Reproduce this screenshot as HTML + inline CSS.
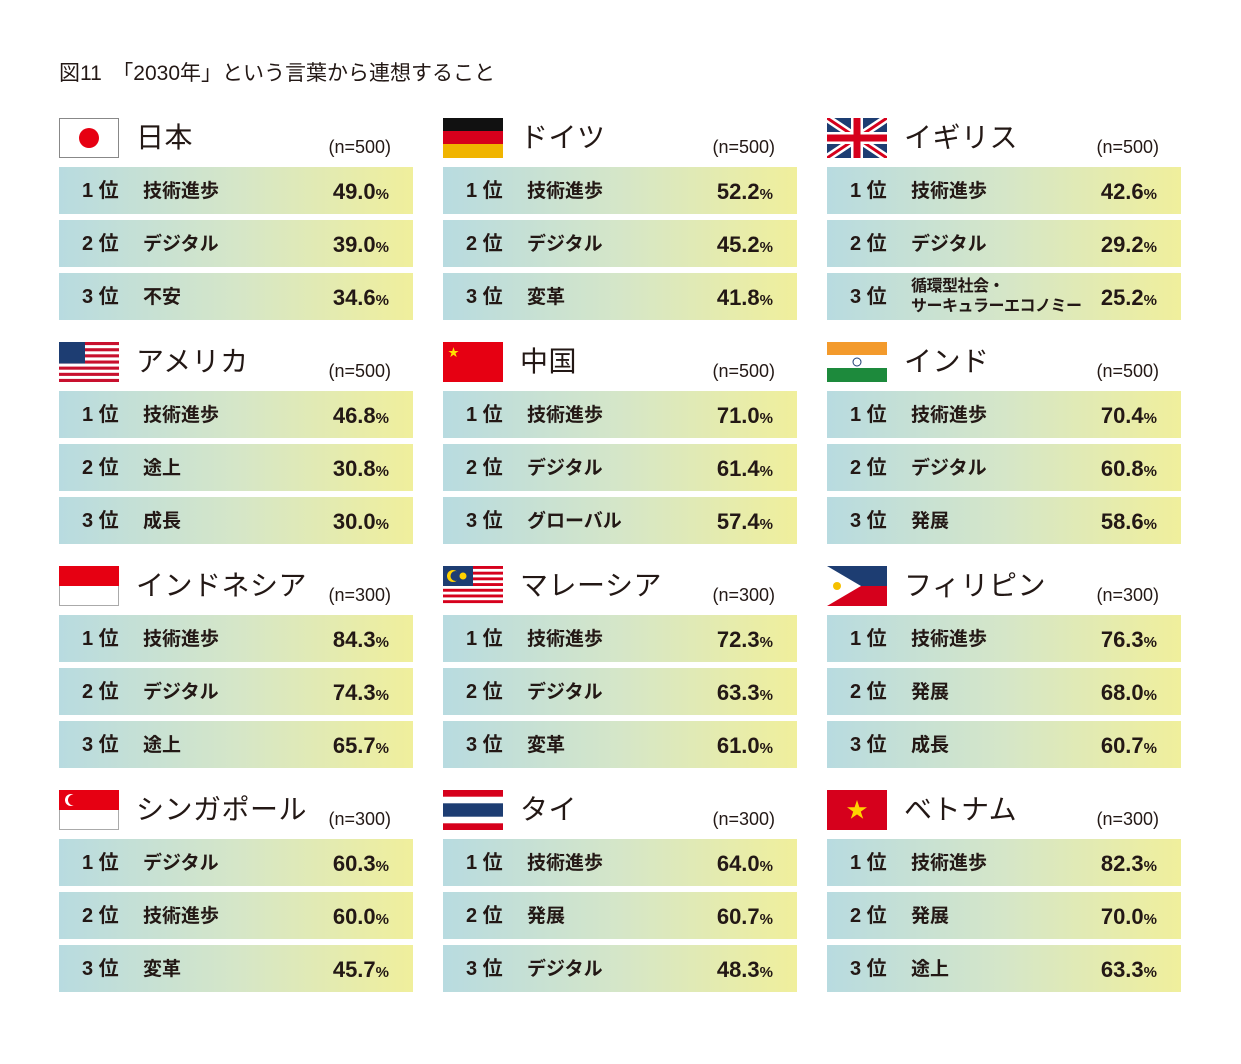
<!DOCTYPE html>
<html><head><meta charset="utf-8"><style>
body{margin:0;background:#fff;width:1241px;height:1064px;position:relative;overflow:hidden;font-family:"Liberation Sans","Noto Sans CJK JP",sans-serif;color:#231815}
.t{position:absolute;left:59px;top:60px;font-size:21px;line-height:28px}
.b{position:absolute;width:354px;height:202px}
.f{position:absolute;left:0;top:0;width:60px;height:40px}
.nm{position:absolute;left:77px;top:0;font-size:28px;line-height:40px;letter-spacing:0.5px}
.n{position:absolute;right:22px;top:18px;font-size:18px;line-height:22px}
.r{position:absolute;left:0;width:354px;height:47px;background:linear-gradient(90deg,#b8dbe0 0%,#d5e6c8 50%,#f0ef9c 100%);font-weight:bold}
.r1{top:49px}.r2{top:102px}.r3{top:155px}
.k{position:absolute;left:23px;top:1px;line-height:47px;font-size:20px}
.l{position:absolute;left:84px;top:1px;line-height:47px;font-size:19px}
.l2{line-height:20px;top:4px;font-size:16px;letter-spacing:-0.5px}
.p{position:absolute;right:24px;top:1px;line-height:47px;font-size:22px}
.p small{font-size:15px}
</style></head><body>
<div class="t">図11　「2030年」という言葉から連想すること</div>

<div class="b" style="left:59px;top:118px">
<svg class="f" viewBox="0 0 60 40"><rect x=".5" y=".5" width="59" height="39" fill="#fff" stroke="#888"/><circle cx="30" cy="20" r="10" fill="#e60012"/></svg>
<div class="nm">日本</div><div class="n">(n=500)</div>
<div class="r r1"><span class="k">1 位</span><span class="l">技術進歩</span><span class="p">49.0<small>%</small></span></div>
<div class="r r2"><span class="k">2 位</span><span class="l">デジタル</span><span class="p">39.0<small>%</small></span></div>
<div class="r r3"><span class="k">3 位</span><span class="l">不安</span><span class="p">34.6<small>%</small></span></div>
</div>

<div class="b" style="left:443px;top:118px">
<svg class="f" viewBox="0 0 60 40"><rect width="60" height="14" fill="#111"/><rect y="13" width="60" height="14" fill="#d6001c"/><rect y="26" width="60" height="14" fill="#f0b400"/></svg>
<div class="nm">ドイツ</div><div class="n">(n=500)</div>
<div class="r r1"><span class="k">1 位</span><span class="l">技術進歩</span><span class="p">52.2<small>%</small></span></div>
<div class="r r2"><span class="k">2 位</span><span class="l">デジタル</span><span class="p">45.2<small>%</small></span></div>
<div class="r r3"><span class="k">3 位</span><span class="l">変革</span><span class="p">41.8<small>%</small></span></div>
</div>

<div class="b" style="left:827px;top:118px">
<svg class="f" viewBox="0 0 60 40"><rect width="60" height="40" fill="#1d3d72"/><path d="M0 0L60 40M60 0L0 40" stroke="#fff" stroke-width="8"/><path d="M0 0L60 40M60 0L0 40" stroke="#d6001c" stroke-width="3"/><path d="M30 0V40M0 20H60" stroke="#fff" stroke-width="12"/><path d="M30 0V40M0 20H60" stroke="#d6001c" stroke-width="7"/></svg>
<div class="nm">イギリス</div><div class="n">(n=500)</div>
<div class="r r1"><span class="k">1 位</span><span class="l">技術進歩</span><span class="p">42.6<small>%</small></span></div>
<div class="r r2"><span class="k">2 位</span><span class="l">デジタル</span><span class="p">29.2<small>%</small></span></div>
<div class="r r3"><span class="k">3 位</span><span class="l l2">循環型社会・<br>サーキュラーエコノミー</span><span class="p">25.2<small>%</small></span></div>
</div>

<div class="b" style="left:59px;top:342px">
<svg class="f" viewBox="0 0 60 40"><rect width="60" height="40" fill="#fff"/><g fill="#c8102e"><rect y="0" width="60" height="3.1"/><rect y="6.2" width="60" height="3.1"/><rect y="12.3" width="60" height="3.1"/><rect y="18.5" width="60" height="3.1"/><rect y="24.6" width="60" height="3.1"/><rect y="30.8" width="60" height="3.1"/><rect y="36.9" width="60" height="3.1"/></g><rect width="26" height="21.5" fill="#1d3d72"/></svg>
<div class="nm">アメリカ</div><div class="n">(n=500)</div>
<div class="r r1"><span class="k">1 位</span><span class="l">技術進歩</span><span class="p">46.8<small>%</small></span></div>
<div class="r r2"><span class="k">2 位</span><span class="l">途上</span><span class="p">30.8<small>%</small></span></div>
<div class="r r3"><span class="k">3 位</span><span class="l">成長</span><span class="p">30.0<small>%</small></span></div>
</div>

<div class="b" style="left:443px;top:342px">
<svg class="f" viewBox="0 0 60 40"><rect width="60" height="40" fill="#e60012"/><text x="5" y="14" font-size="11" fill="#ffe000">★</text></svg>
<div class="nm">中国</div><div class="n">(n=500)</div>
<div class="r r1"><span class="k">1 位</span><span class="l">技術進歩</span><span class="p">71.0<small>%</small></span></div>
<div class="r r2"><span class="k">2 位</span><span class="l">デジタル</span><span class="p">61.4<small>%</small></span></div>
<div class="r r3"><span class="k">3 位</span><span class="l">グローバル</span><span class="p">57.4<small>%</small></span></div>
</div>

<div class="b" style="left:827px;top:342px">
<svg class="f" viewBox="0 0 60 40"><rect width="60" height="14" fill="#f39a2c"/><rect y="13" width="60" height="14" fill="#fff"/><rect y="26" width="60" height="14" fill="#1d8a3c"/><circle cx="30" cy="20" r="4" fill="none" stroke="#1d3d72"/></svg>
<div class="nm">インド</div><div class="n">(n=500)</div>
<div class="r r1"><span class="k">1 位</span><span class="l">技術進歩</span><span class="p">70.4<small>%</small></span></div>
<div class="r r2"><span class="k">2 位</span><span class="l">デジタル</span><span class="p">60.8<small>%</small></span></div>
<div class="r r3"><span class="k">3 位</span><span class="l">発展</span><span class="p">58.6<small>%</small></span></div>
</div>

<div class="b" style="left:59px;top:566px">
<svg class="f" viewBox="0 0 60 40"><rect x=".5" y=".5" width="59" height="39" fill="#fff" stroke="#aaa"/><rect width="60" height="20" fill="#e60012"/></svg>
<div class="nm">インドネシア</div><div class="n">(n=300)</div>
<div class="r r1"><span class="k">1 位</span><span class="l">技術進歩</span><span class="p">84.3<small>%</small></span></div>
<div class="r r2"><span class="k">2 位</span><span class="l">デジタル</span><span class="p">74.3<small>%</small></span></div>
<div class="r r3"><span class="k">3 位</span><span class="l">途上</span><span class="p">65.7<small>%</small></span></div>
</div>

<div class="b" style="left:443px;top:566px">
<svg class="f" viewBox="0 0 60 40"><rect width="60" height="40" fill="#fff"/><g fill="#d6001c"><rect y="0" width="60" height="2.9"/><rect y="5.7" width="60" height="2.9"/><rect y="11.4" width="60" height="2.9"/><rect y="17.1" width="60" height="2.9"/><rect y="22.8" width="60" height="2.9"/><rect y="28.5" width="60" height="2.9"/><rect y="34.2" width="60" height="2.9"/></g><rect width="30" height="20" fill="#1d3d72"/><circle cx="10" cy="10" r="6" fill="#ffd200"/><circle cx="12.5" cy="10" r="5" fill="#1d3d72"/><circle cx="20" cy="10" r="3.5" fill="#ffd200"/></svg>
<div class="nm">マレーシア</div><div class="n">(n=300)</div>
<div class="r r1"><span class="k">1 位</span><span class="l">技術進歩</span><span class="p">72.3<small>%</small></span></div>
<div class="r r2"><span class="k">2 位</span><span class="l">デジタル</span><span class="p">63.3<small>%</small></span></div>
<div class="r r3"><span class="k">3 位</span><span class="l">変革</span><span class="p">61.0<small>%</small></span></div>
</div>

<div class="b" style="left:827px;top:566px">
<svg class="f" viewBox="0 0 60 40"><rect width="60" height="20" fill="#1d3d72"/><rect y="20" width="60" height="20" fill="#d6001c"/><path d="M0 0L34 20L0 40Z" fill="#fff"/><circle cx="10" cy="20" r="4" fill="#f5c000"/></svg>
<div class="nm">フィリピン</div><div class="n">(n=300)</div>
<div class="r r1"><span class="k">1 位</span><span class="l">技術進歩</span><span class="p">76.3<small>%</small></span></div>
<div class="r r2"><span class="k">2 位</span><span class="l">発展</span><span class="p">68.0<small>%</small></span></div>
<div class="r r3"><span class="k">3 位</span><span class="l">成長</span><span class="p">60.7<small>%</small></span></div>
</div>

<div class="b" style="left:59px;top:790px">
<svg class="f" viewBox="0 0 60 40"><rect x=".5" y=".5" width="59" height="39" fill="#fff" stroke="#aaa"/><rect width="60" height="20" fill="#e60012"/><circle cx="12" cy="10" r="6" fill="#fff"/><circle cx="14.5" cy="10" r="5.5" fill="#e60012"/></svg>
<div class="nm">シンガポール</div><div class="n">(n=300)</div>
<div class="r r1"><span class="k">1 位</span><span class="l">デジタル</span><span class="p">60.3<small>%</small></span></div>
<div class="r r2"><span class="k">2 位</span><span class="l">技術進歩</span><span class="p">60.0<small>%</small></span></div>
<div class="r r3"><span class="k">3 位</span><span class="l">変革</span><span class="p">45.7<small>%</small></span></div>
</div>

<div class="b" style="left:443px;top:790px">
<svg class="f" viewBox="0 0 60 40"><rect width="60" height="40" fill="#d6001c"/><rect y="6.7" width="60" height="26.6" fill="#fff"/><rect y="13.3" width="60" height="13.4" fill="#1d3d72"/></svg>
<div class="nm">タイ</div><div class="n">(n=300)</div>
<div class="r r1"><span class="k">1 位</span><span class="l">技術進歩</span><span class="p">64.0<small>%</small></span></div>
<div class="r r2"><span class="k">2 位</span><span class="l">発展</span><span class="p">60.7<small>%</small></span></div>
<div class="r r3"><span class="k">3 位</span><span class="l">デジタル</span><span class="p">48.3<small>%</small></span></div>
</div>

<div class="b" style="left:827px;top:790px">
<svg class="f" viewBox="0 0 60 40"><rect width="60" height="40" fill="#d6001c"/><path d="M30 10L32.4 17.2H40L33.8 21.6L36.2 28.8L30 24.4L23.8 28.8L26.2 21.6L20 17.2H27.6Z" fill="#ffd200"/></svg>
<div class="nm">ベトナム</div><div class="n">(n=300)</div>
<div class="r r1"><span class="k">1 位</span><span class="l">技術進歩</span><span class="p">82.3<small>%</small></span></div>
<div class="r r2"><span class="k">2 位</span><span class="l">発展</span><span class="p">70.0<small>%</small></span></div>
<div class="r r3"><span class="k">3 位</span><span class="l">途上</span><span class="p">63.3<small>%</small></span></div>
</div>
</body></html>
